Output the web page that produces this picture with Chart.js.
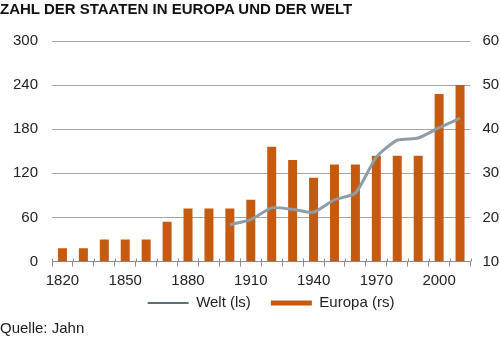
<!DOCTYPE html>
<html>
<head>
<meta charset="utf-8">
<script src="https://cdn.jsdelivr.net/npm/chart.js@4.4.1/dist/chart.umd.min.js"></script>
<style>
  html, body { margin: 0; padding: 0; background: #fff; }
  #wrap { position: relative; width: 500px; height: 344px; overflow: hidden; }
  #chart { position: absolute; left: 0; top: 0; }
  .txt { position: absolute; left: 0; font-family: "Liberation Sans", Arial, sans-serif; font-size: 15px; line-height: 15px; color: #1a1a1a; white-space: nowrap; }
  #title { top: 1px; font-weight: bold; color: #111; }
  #source { top: 320px; }
</style>
</head>
<body>
<div id="wrap">
  <canvas id="chart" width="500" height="344"></canvas>
  <div id="title" class="txt">ZAHL DER STAATEN IN EUROPA UND DER WELT</div>
  <div id="source" class="txt">Quelle: Jahn</div>
</div>
<script>
// Decades on the x axis
const years = [1820, 1830, 1840, 1850, 1860, 1870, 1880, 1890, 1900, 1910,
               1920, 1930, 1940, 1950, 1960, 1970, 1980, 1990, 2000, 2010];

// Number of states worldwide (left scale); no values before 1900
const welt = [null, null, null, null, null, null, null, null, 50, 57,
              73, 71, 67, 84, 93, 142, 165, 168, 182, 195];

// Number of states in Europe (right scale)
const europa = [13, 13, 15, 15, 15, 19, 22, 22, 22, 24,
                36, 33, 29, 32, 32, 34, 34, 34, 48, 50];

// Axis ranges and tick steps
const leftTicks = { min: 0, max: 300, step: 60 };
const rightTicks = { min: 10, max: 60, step: 10 };

const FONT = "'Liberation Sans', Arial, sans-serif";
const TEXT = '#222';
const GRID = '#a3a3a3';
const AXIS = '#8a8a8a';
const BAR = '#c55a11';
const LINE = '#8c9da8';
const LINE_KEY = '#5f707b';

// Small upward stubs on the category axis, continuing the tick marks above the baseline
const axisStubs = {
  id: 'axisStubs',
  afterDraw(chart) {
    const x = chart.scales.x;
    const ctx = chart.ctx;
    const n = x.getLabels().length;
    const step = x.getPixelForValue(1) - x.getPixelForValue(0);
    const y = x.top;
    ctx.save();
    ctx.strokeStyle = AXIS;
    ctx.lineWidth = 1;
    ctx.beginPath();
    for (let i = 0; i <= n; i++) {
      const px = Math.round(x.getPixelForValue(i) - step / 2) + 0.5;
      ctx.moveTo(px, y - 3);
      ctx.lineTo(px, y);
    }
    ctx.stroke();
    ctx.restore();
  }
};

// Nudge the legend box: a little right of centre and closer to the axis labels
const legendShift = {
  id: 'legendShift',
  afterLayout(chart) {
    const lg = chart.legend;
    if (!lg) return;
    const dx = 21, dy = -14;
    lg.left += dx; lg.right += dx;
    lg.top += dy; lg.bottom += dy;
  }
};

new Chart(document.getElementById('chart'), {
  data: {
    labels: years,
    datasets: [
      {
        type: 'line',
        label: 'Welt (ls)',
        data: welt,
        yAxisID: 'yL',
        borderColor: LINE,
        backgroundColor: LINE,
        borderWidth: 3,
        pointRadius: 0,
        tension: 0.2,
        spanGaps: false,
        order: 0
      },
      {
        type: 'bar',
        label: 'Europa (rs)',
        data: europa,
        yAxisID: 'yR',
        backgroundColor: BAR,
        borderWidth: 0,
        categoryPercentage: 1,
        barPercentage: 0.43,
        base: rightTicks.min,
        order: 1
      }
    ]
  },
  options: {
    responsive: false,
    animation: false,
    events: [],
    layout: { padding: { left: 0, right: 0, top: 41, bottom: 9.5 } },
    plugins: {
      tooltip: { enabled: false },
      title: { display: false },
      legend: {
        display: true,
        position: 'bottom',
        align: 'center',
        labels: {
          font: { family: FONT, size: 15 },
          color: TEXT,
          usePointStyle: true,
          pointStyleWidth: 41,
          boxHeight: 5,
          padding: 20,
          generateLabels(chart) {
            return chart.data.datasets.map((ds, i) => {
              const isLine = ds.type === 'line';
              return {
                text: ds.label,
                datasetIndex: i,
                fillStyle: isLine ? LINE_KEY : BAR,
                strokeStyle: isLine ? LINE_KEY : BAR,
                lineWidth: isLine ? 2 : 0,
                pointStyle: isLine ? 'line' : 'rect',
                fontColor: TEXT,
                hidden: false
              };
            });
          }
        }
      }
    },
    scales: {
      x: {
        type: 'category',
        offset: true,
        afterFit(scale) { scale.height = 28; },
        grid: {
          offset: true,
          drawOnChartArea: false,
          drawTicks: true,
          tickLength: 5,
          color: AXIS,
          lineWidth: 1
        },
        border: { display: true, color: AXIS, width: 1 },
        ticks: {
          autoSkip: false,
          maxRotation: 0,
          padding: 5,
          color: TEXT,
          font: { family: FONT, size: 15 },
          callback(value, index) { return index % 3 === 0 ? this.getLabelForValue(value) : ''; }
        }
      },
      yL: {
        type: 'linear',
        position: 'left',
        min: leftTicks.min,
        max: leftTicks.max,
        afterFit(scale) { scale.width = 52; },
        grid: { color: GRID, lineWidth: 1, drawTicks: false },
        border: { display: false },
        ticks: {
          stepSize: leftTicks.step,
          padding: 14,
          color: TEXT,
          font: { family: FONT, size: 15 }
        }
      },
      yR: {
        type: 'linear',
        position: 'right',
        min: rightTicks.min,
        max: rightTicks.max,
        afterFit(scale) { scale.width = 29.5; },
        grid: { display: false, drawTicks: false },
        border: { display: false },
        ticks: {
          stepSize: rightTicks.step,
          padding: 12,
          color: TEXT,
          font: { family: FONT, size: 15 }
        }
      }
    }
  },
  plugins: [axisStubs, legendShift]
});
</script>
</body>
</html>
